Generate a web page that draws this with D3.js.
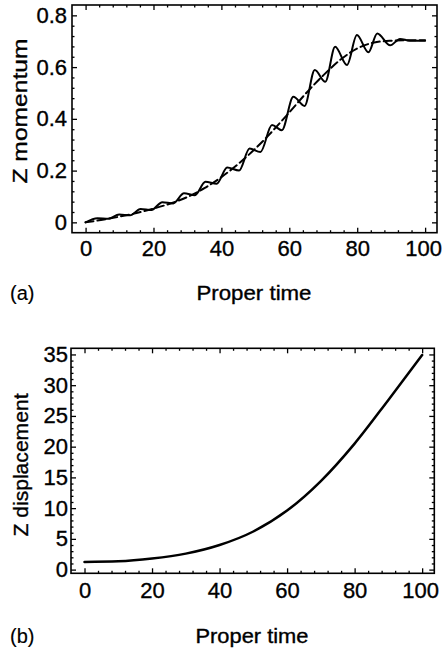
<!DOCTYPE html>
<html><head><meta charset="utf-8">
<script src="https://cdn.jsdelivr.net/npm/d3@7"></script>
<style>
html,body{margin:0;padding:0;background:#fff;}
svg{display:block;}
text{font-family:"Liberation Sans",Arial,Helvetica,sans-serif;fill:#000;stroke:#000;stroke-width:0.35px;}
</style></head>
<body>
<svg id="c" width="443" height="658"></svg>
<script>
// ---- data (a): Z momentum vs proper time ----
const momT = [0, 3.5, 6.7, 9.9, 13.1, 16.2, 19.4, 22.6, 25.8, 29.0, 32.2, 35.3, 38.6, 41.7, 45.2, 48.3, 51.5, 54.9, 57.8, 61.2, 64.5, 67.5, 70.6, 73.5, 77.0, 79.9, 83.3, 85.9, 89.7, 92.6, 95.5, 100];
const momV = [0.0, 0.016, 0.014, 0.030, 0.027, 0.052, 0.048, 0.078, 0.073, 0.112, 0.105, 0.157, 0.149, 0.212, 0.200, 0.285, 0.272, 0.376, 0.356, 0.485, 0.450, 0.589, 0.543, 0.679, 0.608, 0.724, 0.657, 0.730, 0.684, 0.709, 0.702, 0.702];
const avgT = [0, 5, 10, 15, 20, 25, 30, 35, 40, 45, 50, 55, 60, 65, 70, 75, 80, 85, 90, 95, 100];
const avgV = [0, 0.010, 0.022, 0.036, 0.053, 0.073, 0.098, 0.132, 0.175, 0.226, 0.285, 0.352, 0.425, 0.500, 0.568, 0.628, 0.672, 0.695, 0.702, 0.704, 0.704];
const xTicks = [0, 20, 40, 60, 80, 100];
const momTicks = [0, 0.2, 0.4, 0.6, 0.8];
const momTickLabels = ["0", "0.2", "0.4", "0.6", "0.8"];
// ---- data (b): Z displacement vs proper time ----
const dispT = [0, 10, 20, 30, 40, 50, 60, 70, 80, 90, 100];
const dispV = [1.25, 1.35, 1.8, 2.6, 4.0, 6.2, 9.6, 14.4, 20.5, 27.6, 34.9];
const dispTicks = [0, 5, 10, 15, 20, 25, 30, 35];

const svg = d3.select("#c");
const FS = 22;

function minorTicks(majors, n) {
  const out = [];
  for (let i = 0; i < majors.length - 1; i++) {
    const a = majors[i], b = majors[i + 1];
    for (let k = 1; k < n; k++) out.push(a + (b - a) * k / n);
  }
  return out;
}

function panel(opt) {
  const g = svg.append("g");
  const x = d3.scaleLinear().domain(opt.xd).range([opt.L, opt.R]);
  const y = d3.scaleLinear().domain(opt.yd).range([opt.B, opt.T]);
  const xMin = minorTicks(xTicks, 5);
  const yMin = minorTicks(opt.yTicks, 5);
  const styleAx = s => { s.select(".domain").remove(); s.selectAll("line").attr("stroke", "#000").attr("stroke-width", 1.3); s.selectAll("text").style("font-size", FS + "px").attr("font-family", null).attr("fill", "#000"); };
  const xb = g.append("g").attr("transform", `translate(0,${opt.B})`)
    .call(d3.axisBottom(x).tickValues(xTicks).tickSize(-5).tickPadding(opt.xPad).tickFormat(d3.format("d"))).call(styleAx);
  xb.selectAll("text").filter(d => d === 100).attr("dx", "-2");
  g.append("g").attr("transform", `translate(0,${opt.B})`)
    .call(d3.axisBottom(x).tickValues(xMin).tickSize(-2.5).tickFormat("")).call(styleAx);
  g.append("g").attr("transform", `translate(0,${opt.T})`)
    .call(d3.axisTop(x).tickValues(xTicks).tickSize(-5).tickFormat("")).call(styleAx);
  g.append("g").attr("transform", `translate(0,${opt.T})`)
    .call(d3.axisTop(x).tickValues(xMin).tickSize(-2.5).tickFormat("")).call(styleAx);
  g.append("g").attr("transform", `translate(${opt.L},0)`)
    .call(d3.axisLeft(y).tickValues(opt.yTicks).tickSize(-5).tickPadding(opt.yPad).tickFormat((d, i) => opt.yLabels[i])).call(styleAx);
  g.append("g").attr("transform", `translate(${opt.L},0)`)
    .call(d3.axisLeft(y).tickValues(yMin).tickSize(-2.5).tickFormat("")).call(styleAx);
  g.append("g").attr("transform", `translate(${opt.R},0)`)
    .call(d3.axisRight(y).tickValues(opt.yTicks).tickSize(-5).tickFormat("")).call(styleAx);
  g.append("g").attr("transform", `translate(${opt.R},0)`)
    .call(d3.axisRight(y).tickValues(yMin).tickSize(-2.5).tickFormat("")).call(styleAx);
  g.append("rect").attr("x", opt.L).attr("y", opt.T).attr("width", opt.R - opt.L).attr("height", opt.B - opt.T)
    .attr("fill", "none").attr("stroke", "#000").attr("stroke-width", 1.6);
  opt.series.forEach(s => {
    const pts = s.t.map((t, i) => [t, s.v[i]]);
    g.append("path").datum(pts)
      .attr("d", d3.line().x(d => x(d[0])).y(d => y(d[1])).curve(d3.curveMonotoneX))
      .attr("fill", "none").attr("stroke", "#000").attr("stroke-width", s.w)
      .attr("stroke-dasharray", s.dash || null).attr("stroke-linejoin", "round").attr("stroke-linecap", "round");
  });
  g.append("text").attr("transform", `translate(${opt.ytX},${opt.ytY}) rotate(-90)`)
    .attr("text-anchor", "middle").style("font-size", "20px")
    .attr("textLength", opt.ytLen).attr("lengthAdjust", "spacingAndGlyphs").text(opt.yTitle);
  g.append("text").attr("x", opt.xtX).attr("y", opt.xtY)
    .attr("text-anchor", "middle").style("font-size", "20px")
    .attr("textLength", opt.xtLen).attr("lengthAdjust", "spacingAndGlyphs").text("Proper time");
  g.append("text").attr("x", 10).attr("y", opt.xtY).style("font-size", "20px").style("stroke-width", "0.15px").text(opt.tag);
}

panel({
  L: 72, R: 437, T: 5, B: 232.7,
  xd: [-4, 103.5], yd: [-0.04, 0.84],
  yTicks: momTicks, yLabels: momTickLabels, xPad: 8, yPad: 5,
  series: [
    { t: avgT, v: avgV, w: 2, dash: "8,4" },
    { t: momT, v: momV, w: 2 }
  ],
  yTitle: "Z momentum", ytX: 27, ytY: 111, ytLen: 145,
  xtX: 254, xtY: 300, xtLen: 115, tag: "(a)"
});

panel({
  L: 71, R: 434.3, T: 348.3, B: 573.3,
  xd: [-4, 103.6], yd: [-0.6, 36],
  yTicks: dispTicks, yLabels: dispTicks.map(String), xPad: 9, yPad: 3,
  series: [
    { t: dispT, v: dispV, w: 2.5 }
  ],
  yTitle: "Z displacement", ytX: 28, ytY: 465, ytLen: 143,
  xtX: 252, xtY: 643, xtLen: 113, tag: "(b)"
});
</script>
</body></html>
